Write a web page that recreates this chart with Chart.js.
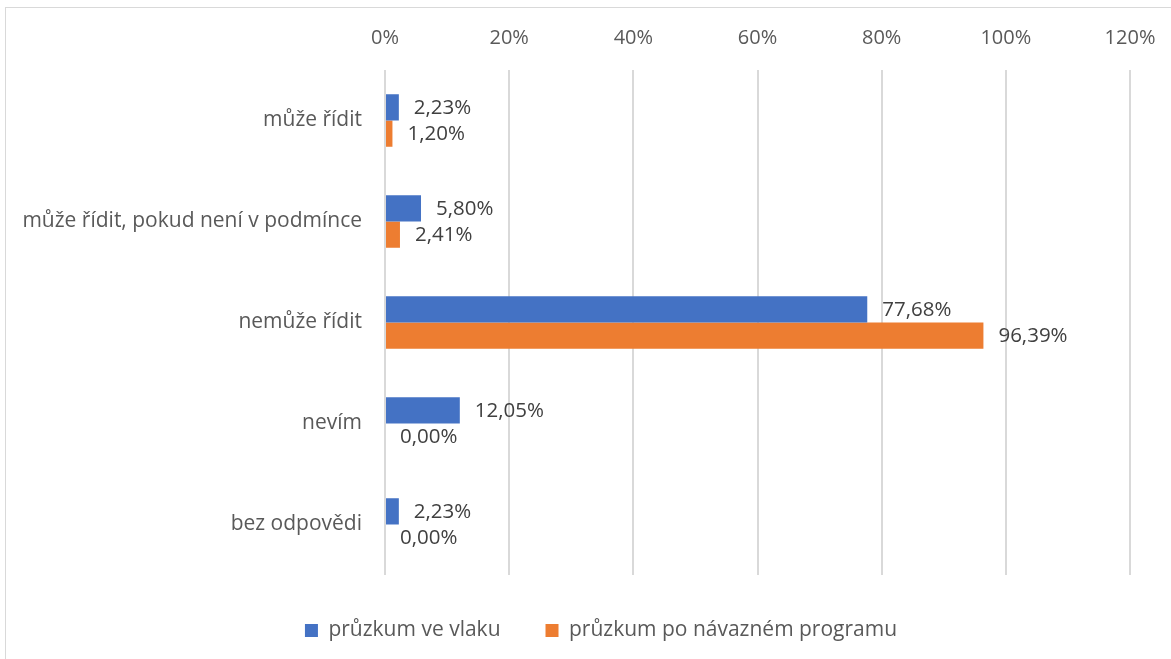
<!DOCTYPE html>
<html>
<head>
<meta charset="utf-8">
<script src="https://cdn.jsdelivr.net/npm/chart.js@4.4.1/dist/chart.umd.min.js"></script>
<style>
  html, body { margin: 0; padding: 0; background: #ffffff; overflow: hidden; width: 1171px; height: 659px; }
  #frame { position: absolute; left: 5px; top: 7px; width: 1190px; height: 700px; border-left: 1px solid #d9d9d9; border-top: 1px solid #d9d9d9; }
  #wrap { position: absolute; left: 0; top: 0; width: 1190px; height: 643px; }
</style>
</head>
<body>
<div id="frame"><div id="wrap"><canvas id="c"></canvas></div></div>
<script>
const categories = ['může řídit', 'může řídit, pokud není v podmínce', 'nemůže řídit', 'nevím', 'bez odpovědi'];
const seriesNames = ['průzkum ve vlaku', 'průzkum po návazném programu'];
const trainSurvey = [2.23, 5.80, 77.68, 12.05, 2.23];
const afterProgram = [1.20, 2.41, 96.39, 0.00, 0.00];
const xTicks = [0, 20, 40, 60, 80, 100, 120];

const FONT = '"Open Sans", "Noto Sans", sans-serif';

const valueLabels = {
  id: 'valueLabels',
  afterDatasetsDraw(chart) {
    const ctx = chart.ctx;
    ctx.save();
    ctx.font = '20.5px ' + FONT;
    ctx.fillStyle = '#404040';
    ctx.textAlign = 'left';
    ctx.textBaseline = 'middle';
    chart.data.datasets.forEach((ds, di) => {
      const meta = chart.getDatasetMeta(di);
      meta.data.forEach((el, i) => {
        const v = ds.data[i];
        const txt = v.toFixed(2).replace('.', ',') + '%';
        ctx.fillText(txt, el.x + 15, el.y + 1);
      });
    });
    ctx.restore();
  }
};

new Chart(document.getElementById('c'), {
  type: 'bar',
  data: {
    labels: categories,
    datasets: [
      { label: seriesNames[0], data: trainSurvey, backgroundColor: '#4472C4', borderWidth: 0 },
      { label: seriesNames[1], data: afterProgram, backgroundColor: '#ED7D31', borderWidth: 0 }
    ]
  },
  options: {
    indexAxis: 'y',
    responsive: true,
    maintainAspectRatio: false,
    animation: false,
    layout: { padding: 0 },
    datasets: { bar: { categoryPercentage: 0.52, barPercentage: 1.0 } },
    scales: {
      x: {
        position: 'top',
        min: xTicks[0],
        max: xTicks[xTicks.length - 1],
        afterBuildTicks(scale) { scale.ticks = xTicks.map(v => ({ value: v })); },
        afterFit(scale) { scale.height = 62; },
        grid: { color: '#d9d9d9', lineWidth: 2, drawTicks: false },
        border: { display: false },
        ticks: {
          padding: 20,
          color: '#595959',
          font: { family: FONT, size: 20 },
          callback: v => v + '%'
        }
      },
      y: {
        afterFit(scale) { scale.width = 379; },
        grid: { display: false, drawTicks: false },
        border: { display: false },
        ticks: {
          padding: 23,
          color: '#595959',
          font: { family: FONT, size: 21 }
        }
      },
      yRight: {
        type: 'category',
        axis: 'y',
        position: 'right',
        afterFit(scale) { scale.width = 66; },
        grid: { display: false, drawTicks: false },
        border: { display: false },
        ticks: { display: false }
      }
    },
    plugins: {
      legend: {
        position: 'bottom',
        labels: {
          boxWidth: 13,
          boxHeight: 13,
          padding: 45,
          color: '#595959',
          font: { family: FONT, size: 21 }
        }
      },
      tooltip: { enabled: false }
    }
  },
  plugins: [valueLabels]
});
</script>
</body>
</html>
